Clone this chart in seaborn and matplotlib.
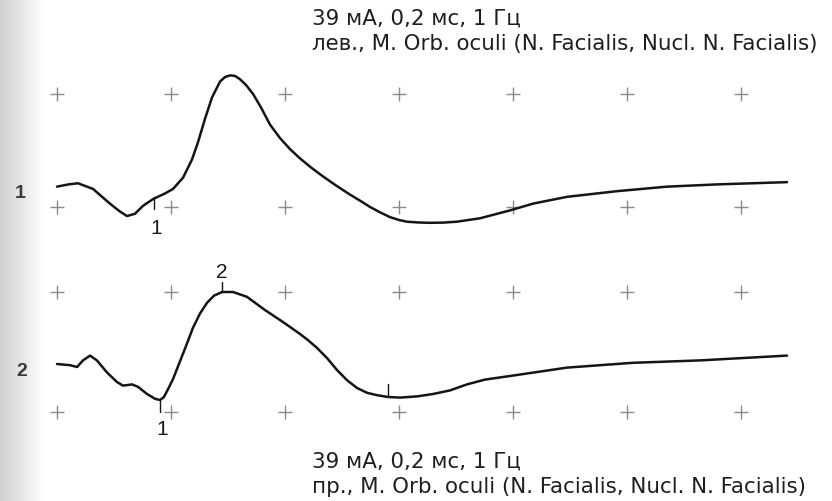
import numpy as np
import pandas as pd
import matplotlib
matplotlib.use("Agg")
import matplotlib.pyplot as plt
import seaborn as sns

# ---- data (time in ms, amplitude in divisions) ----
t1 = [0.0, 0.5, 0.92, 1.58, 2.32, 2.76, 3.07, 3.42, 3.77, 4.21, 4.74, 5.09, 5.53,
      5.92, 6.18, 6.49, 6.80, 7.15, 7.37, 7.59, 7.81, 8.03, 8.29, 8.60, 8.95, 9.34,
      9.78, 10.23, 10.66, 11.14, 11.67, 12.24, 12.85, 13.42, 13.73, 14.20,
      14.61, 15.00, 15.35, 15.85, 16.36, 16.95, 17.54, 18.55, 19.87, 20.88, 22.37,
      24.56, 26.75, 28.95, 32.02]
a1 = [0.18, 0.20, 0.21, 0.16, 0.03, -0.04, -0.08, -0.06, 0.01, 0.07, 0.12, 0.16, 0.26,
      0.42, 0.57, 0.78, 0.97, 1.11, 1.15, 1.165, 1.16, 1.13, 1.08, 1.00, 0.88, 0.73,
      0.61, 0.51, 0.43, 0.35, 0.27, 0.19, 0.11, 0.04, 0.0, -0.05,
      -0.09, -0.115, -0.13, -0.137, -0.14, -0.138, -0.13, -0.10, -0.03, 0.03, 0.09,
      0.14, 0.18, 0.20, 0.22]

t2 = [0.0, 0.57, 0.88, 1.14, 1.45, 1.75, 2.19, 2.63, 2.89, 3.11, 3.29, 3.55, 3.95,
      4.30, 4.52, 4.69, 4.87, 5.09, 5.39, 5.70, 5.96, 6.27, 6.58, 6.89, 7.24, 7.72,
      8.33, 9.12, 9.91, 10.66, 11.00, 11.40, 11.84, 12.28, 12.72, 13.16, 13.60, 14.04,
      14.52, 15.04, 15.79, 16.49, 17.24, 17.98, 18.77, 19.87, 22.37, 25.26, 28.20,
      32.02]
a2 = [0.40, 0.39, 0.375, 0.43, 0.47, 0.43, 0.33, 0.25, 0.22, 0.225, 0.23, 0.21, 0.15,
      0.11, 0.10, 0.125, 0.19, 0.275, 0.42, 0.57, 0.70, 0.82, 0.91, 0.97, 1.00, 1.00,
      0.96, 0.85, 0.75, 0.65, 0.60, 0.535, 0.45, 0.35, 0.265, 0.20, 0.16, 0.14,
      0.125, 0.12, 0.13, 0.15, 0.18, 0.23, 0.27, 0.30, 0.37, 0.41, 0.43,
      0.47]

grid_t = [0, 5, 10, 15, 20, 25, 30]
grid_a = [0, 1]

# latency markers: (time, tick start, tick end, label, label amplitude)
marks1 = [(4.25, 0.09, -0.02, "1", -0.18)]
marks2 = [(4.52, 0.10, 0.0, "1", -0.14),
          (7.24, 1.00, 1.08, "2", 1.175),
          (14.52, 0.125, 0.23, "", None)]

title_line1 = "39 мА, 0,2 мс, 1 Гц"
title1_line2 = "лев., M. Orb. oculi (N. Facialis, Nucl. N. Facialis)"
title2_line2 = "пр., M. Orb. oculi (N. Facialis, Nucl. N. Facialis)"
trace_labels = ["1", "2"]

sns.set_theme(style="white")
plt.rcParams["font.family"] = ["Liberation Sans", "DejaVu Sans"]

W, H = 832, 502
fig = plt.figure(figsize=(W / 100, H / 100), dpi=100)
fig.patch.set_facecolor("white")

# scanner shadow on left edge
axbg = fig.add_axes([0, 0, 45 / W, 1])
grad = np.linspace(0.74, 1.0, 100) ** 0.7
axbg.imshow(np.tile(grad, (10, 1)), cmap="gray", vmin=0, vmax=1, aspect="auto",
            extent=[0, 1, 0, 1])
axbg.axis("off")

xlim = (-57 / 22.8, (W - 57) / 22.8)
ax1 = fig.add_axes([0, 0.5, 1, 0.5])
ax2 = fig.add_axes([0, 0.0, 1, 0.5])
ax1.set_ylim((208 - 251) / 113, 208 / 113)
ax2.set_ylim((413 - 502) / 120, (413 - 251) / 120)

cross_color = "#8a8a8a"
ink = "#151515"
for ax, t, a, marks in [(ax1, t1, a1, marks1), (ax2, t2, a2, marks2)]:
    ax.set_xlim(*xlim)
    ax.patch.set_alpha(0)
    gx, gy = np.meshgrid(grid_t, grid_a)
    gdf = pd.DataFrame({"t": gx.ravel(), "a": gy.ravel()})
    sns.scatterplot(data=gdf, x="t", y="a", marker="+", s=110, color=cross_color,
                    linewidth=1.0, ax=ax, zorder=1)
    df = pd.DataFrame({"t": t, "a": a})
    sns.lineplot(data=df, x="t", y="a", sort=False, estimator=None, color=ink,
                 linewidth=1.8, ax=ax, zorder=3)
    ax.lines[-1].set_solid_joinstyle("round")
    ax.lines[-1].set_solid_capstyle("round")
    for (mt, m0, m1, lab, la) in marks:
        ax.plot([mt, mt], [m0, m1], color=ink, lw=1.0, zorder=3)
        if lab:
            ax.text(mt + (0.1 if lab == "1" else 0.0), la, lab, ha="center",
                    va="center", fontsize=15, color="#1a1a1a")
    ax.axis("off")

# left trace labels
fig.text(20 / W, 1 - 193 / H, trace_labels[0], ha="center", va="center",
         fontsize=14, fontweight="bold", color="#3a3a3a")
fig.text(22 / W, 1 - 371 / H, trace_labels[1], ha="center", va="center",
         fontsize=14, fontweight="bold", color="#3a3a3a")

# annotations
tc = "#1e1e1e"
tf = ["DejaVu Sans"]
fs = 15.4
fig.text(312 / W, 1 - 19 / H, title_line1, ha="left", va="center", fontsize=fs,
         color=tc, family=tf)
fig.text(312 / W, 1 - 44 / H, title1_line2, ha="left", va="center", fontsize=fs,
         color=tc, family=tf)
fig.text(312 / W, 1 - 462 / H, title_line1, ha="left", va="center", fontsize=fs,
         color=tc, family=tf)
fig.text(312 / W, 1 - 487 / H, title2_line2, ha="left", va="center", fontsize=fs,
         color=tc, family=tf)

fig.savefig("out.png", dpi=100, facecolor="white")
